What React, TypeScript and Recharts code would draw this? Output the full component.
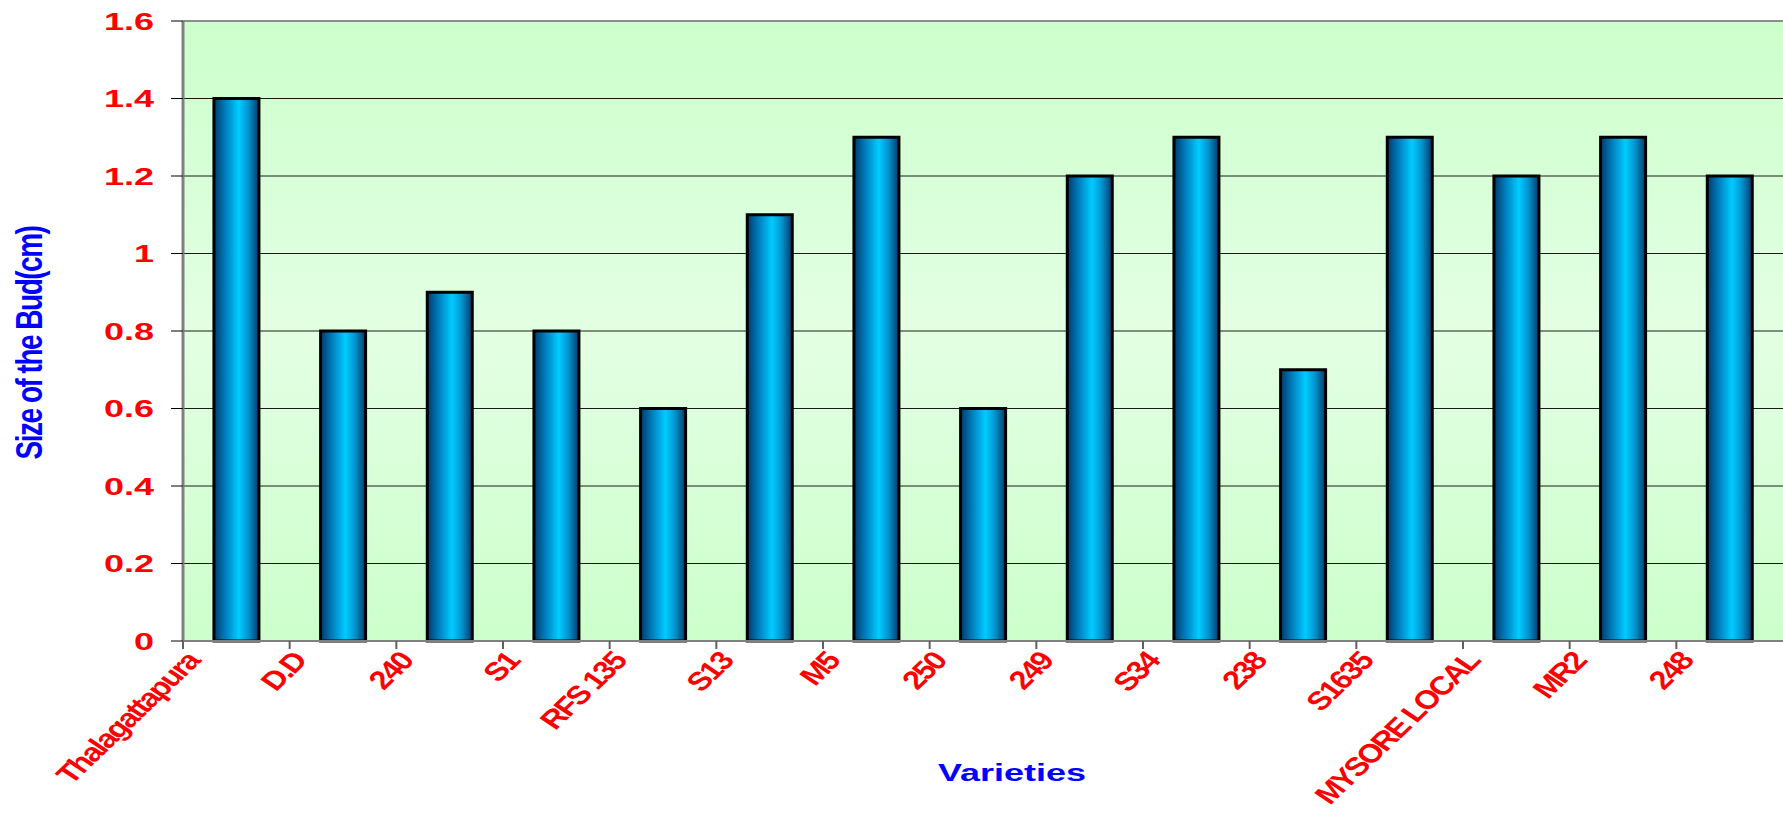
import React from 'react';
import { BarChart, Bar, XAxis, YAxis, CartesianGrid, ReferenceLine, Label } from 'recharts';

const varieties = [
  'Thalagattapura', 'D.D', '240', 'S1', 'RFS 135', 'S13', 'M5', '250',
  '249', 'S34', '238', 'S1635', 'MYSORE LOCAL', 'MR2', '248',
];
const budSize = [1.4, 0.8, 0.9, 0.8, 0.6, 1.1, 1.3, 0.6, 1.2, 1.3, 0.7, 1.3, 1.2, 1.3, 1.2];
const sizeTicks = [0, 0.2, 0.4, 0.6, 0.8, 1, 1.2, 1.4, 1.6];

const data = varieties.map((name, i) => ({ name, size: budSize[i] }));

const W = 1783;
const H = 826;
const FONT = '"Liberation Sans", Arial, sans-serif';
const STRETCH = 1.5; // text in this chart is drawn wide

const YTick = (props: any) => {
  const { x, y, payload } = props;
  return (
    <g transform={`translate(${x - 17},${y}) scale(${STRETCH},1)`}>
      <text textAnchor="end" dy="0.36em" fill="#ff0000" fontFamily={FONT} fontWeight="bold" fontSize={24}>
        {String(payload.value)}
      </text>
    </g>
  );
};

const XTick = (props: any) => {
  const { x, y, payload, width } = props;
  const band = width / varieties.length;
  const left = x - band / 2;
  return (
    <g>
      <line x1={left} y1={y} x2={left} y2={y + 8} stroke="#606060" strokeWidth={2} />
      <g transform={`translate(${left + 18},${y + 21}) scale(1.25,1) rotate(-50)`}>
        <text textAnchor="end" fill="#ff0000" fontFamily={FONT} fontWeight="bold" fontSize={26} letterSpacing={-1.8}>
          {payload.value}
        </text>
      </g>
    </g>
  );
};

const YTitle = (props: any) => {
  const { viewBox } = props;
  const cx = viewBox.x + 29;
  const cy = viewBox.y + viewBox.height / 2 + 12;
  return (
    <g transform={`translate(${cx},${cy}) scale(1.3,1) rotate(-90)`}>
      <text textAnchor="middle" dy="0.36em" fill="#0000ff" fontFamily={FONT} fontWeight="bold" fontSize={28} letterSpacing={-1.5}>
        Size of the Bud(cm)
      </text>
    </g>
  );
};

const XTitle = (props: any) => {
  const { viewBox } = props;
  const cx = viewBox.x + viewBox.width / 2 + 29;
  return (
    <g transform={`translate(${cx},781) scale(${STRETCH},1)`}>
      <text textAnchor="middle" fill="#0000ff" fontFamily={FONT} fontWeight="bold" fontSize={24}>
        Varieties
      </text>
    </g>
  );
};

export default function App() {
  return (
    <div style={{ position: 'absolute', left: 0, top: 0, width: W, height: H, background: '#fff' }}>
      <BarChart width={W} height={H} data={data} margin={{ top: 21, right: 0, left: 0, bottom: 0 }} barCategoryGap="29%">
        <defs>
          <linearGradient id="plotBg" x1="0" y1="0" x2="0" y2="1">
            <stop offset="0%" stopColor="#ccffcc" />
            <stop offset="50%" stopColor="#e3ffe3" />
            <stop offset="100%" stopColor="#ccffcc" />
          </linearGradient>
          <linearGradient id="budBar" x1="0" y1="0" x2="1" y2="0">
            <stop offset="0%" stopColor="#003a6b" />
            <stop offset="28%" stopColor="#0084c4" />
            <stop offset="55%" stopColor="#00ccff" />
            <stop offset="76%" stopColor="#0096cf" />
            <stop offset="100%" stopColor="#00386a" />
          </linearGradient>
        </defs>
        <CartesianGrid vertical={false} stroke="#1a1a1a" strokeWidth={1} fill="url(#plotBg)" fillOpacity={1} />
        <XAxis
          dataKey="name"
          height={185}
          interval={0}
          tickSize={0}
          tickMargin={0}
          tick={<XTick />}
          axisLine={{ stroke: '#808080', strokeWidth: 2 }}
        >
          <Label content={<XTitle />} />
        </XAxis>
        <YAxis
          width={183}
          domain={[0, 1.6]}
          ticks={sizeTicks}
          interval={0}
          tickSize={12}
          tickMargin={0}
          tick={<YTick />}
          tickLine={{ stroke: '#000', strokeWidth: 1 }}
          axisLine={{ stroke: '#808080', strokeWidth: 3 }}
        >
          <Label content={<YTitle />} />
        </YAxis>
        <ReferenceLine y={1.6} stroke="#8c8c8c" strokeWidth={2} />
        <Bar dataKey="size" fill="url(#budBar)" stroke="#000" strokeWidth={3} isAnimationActive={false} />
      </BarChart>
    </div>
  );
}
